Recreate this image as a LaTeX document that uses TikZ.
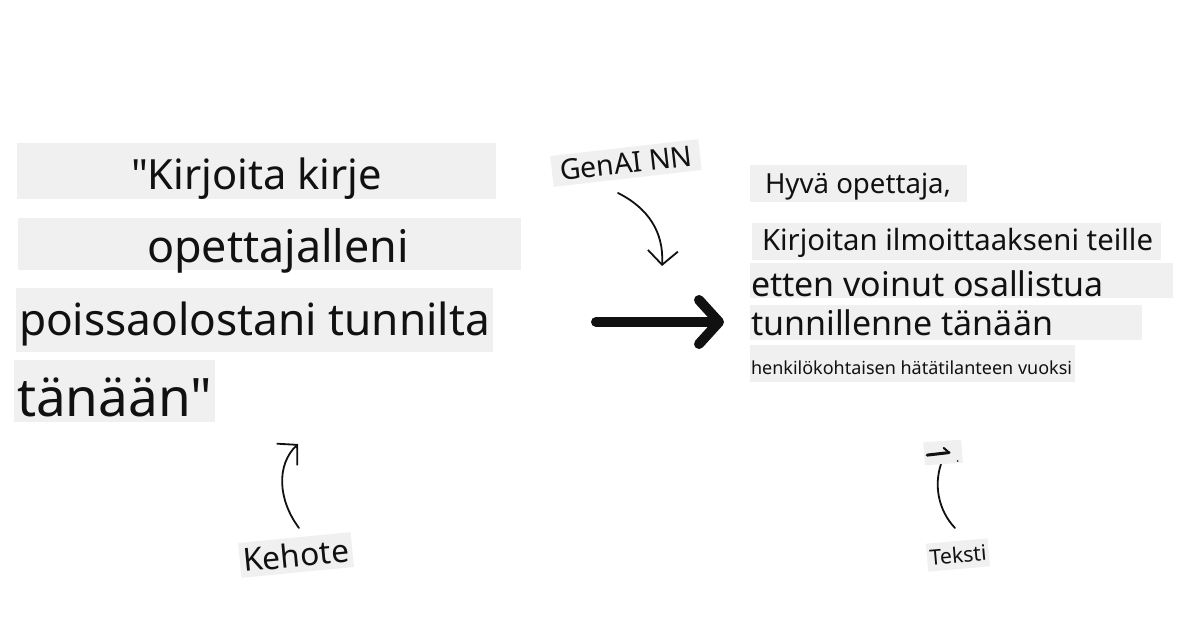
\documentclass[tikz,border=0pt]{standalone}
\usepackage{fontspec}
\setmainfont{Noto Sans}[Ligatures=TeXOff]
\usetikzlibrary{arrows.meta}
\definecolor{boxgrey}{HTML}{F0F0F0}
\definecolor{ink}{HTML}{111111}
\newcommand\fitw[2]{\resizebox{#1}{!}{#2}}
\tikzset{
  gbox/.style={fill=boxgrey, draw=none, inner sep=0pt, outer sep=0pt, anchor=north west},
  txt/.style={inner sep=0pt, outer sep=0pt, anchor=base west, text=ink},
  tagbox/.style={fill=boxgrey, draw=none, inner sep=0pt, outer sep=0pt, text=ink},
  thin arrow/.style={draw=ink, line width=1.8pt, line cap=round, line join=round},
}
\begin{document}
\begin{tikzpicture}[x=1pt,y=-1pt]
\useasboundingbox (0,0) rectangle (1200,628);
\fill[white] (0,0) rectangle (1200,628);

% ---- prompt (left)
\node[gbox, minimum width=479pt, minimum height=56pt] (b1) at (17,143) {};
\node[gbox, minimum width=503pt, minimum height=52pt] (b2) at (18,218) {};
\node[gbox, minimum width=477pt, minimum height=64pt] (b3) at (16,288) {};
\node[gbox, minimum width=201pt, minimum height=62pt] (b4) at (14,360) {};
\node[txt] (t1) at (131,190) {\fitw{251pt}{"Kirjoita kirje}};
\node[txt] (t2) at (147,263) {\fitw{262pt}{opettajalleni}};
\node[txt] (t3) at (19,336) {\fitw{471pt}{poissaolostani tunnilta}};
\node[txt] (t4) at (17,416) {\fitw{195pt}{tänään"}};

% ---- output (right)
\node[gbox, minimum width=217pt, minimum height=37pt] (r1) at (750,165) {};
\node[gbox, minimum width=409pt, minimum height=37pt] (r2) at (752,223) {};
\node[gbox, minimum width=423pt, minimum height=35pt] (r3) at (750,263) {};
\node[gbox, minimum width=392pt, minimum height=35pt] (r4) at (750,305) {};
\node[gbox, minimum width=325pt, minimum height=37pt] (r5) at (750,345) {};
\node[txt] (o1) at (765,194) {\fitw{186pt}{Hyvä opettaja,}};
\node[txt] (o2) at (762,251) {\fitw{391pt}{Kirjoitan ilmoittaakseni teille}};
\node[txt] (o3) at (751,297) {\fitw{353pt}{etten voinut osallistua}};
\node[txt] (o4) at (751,336) {\fitw{302pt}{tunnillenne tänään}};
\node[txt] (o5) at (751,374) {\fitw{321pt}{henkilökohtaisen hätätilanteen vuoksi}};

% ---- big arrow
\coordinate (as) at (596,322);
\coordinate (ae) at (724,322);
\draw[draw=ink, line width=10pt, line cap=round, -{Straight Barb[length=20pt,width=44pt,round]}] (as) -- (ae);

% ---- GenAI NN label
\node[tagbox, rotate=6.5, minimum width=149pt, minimum height=31pt] (gen) at (626,163) {\fitw{133pt}{GenAI NN}};
\coordinate (g1) at (618,193);
\coordinate (g2) at (662,266);
\draw[thin arrow, -{Straight Barb[length=14pt,width=30pt]}] (g1) .. controls (648,208) and (664,232) .. (g2);

% ---- Kehote label
\node[tagbox, rotate=5.5, minimum width=113pt, minimum height=35pt] (keh) at (296,555) {\fitw{106pt}{Kehote}};
\coordinate (k1) at (299,528);
\coordinate (k2) at (298,444);
\draw[thin arrow, -{Straight Barb[length=14pt,width=30pt]}] (k1) .. controls (278,500) and (276,465) .. (k2);

% ---- Teksti label
\node[tagbox, rotate=5, minimum width=62pt, minimum height=28pt] (tek) at (958,555) {\fitw{57pt}{Teksti}};
\coordinate (e1) at (955,528);
\coordinate (e2) at (941,464);
\draw[thin arrow] (e1) .. controls (938,510) and (934,485) .. (e2);
% small marker box above Teksti arrow
\begin{scope}[shift={(943,452)}, rotate=4]
  \fill[boxgrey] (-19,-11) rectangle (19,12);
  \draw[draw=ink, line width=3pt, line cap=round] (-16,2) -- (6,1);
  \draw[draw=ink, line width=2pt, line cap=round] (6,1) -- (1,-4);
  \fill[ink] (14,10) circle (0.9pt);
\end{scope}
\end{tikzpicture}
\end{document}
